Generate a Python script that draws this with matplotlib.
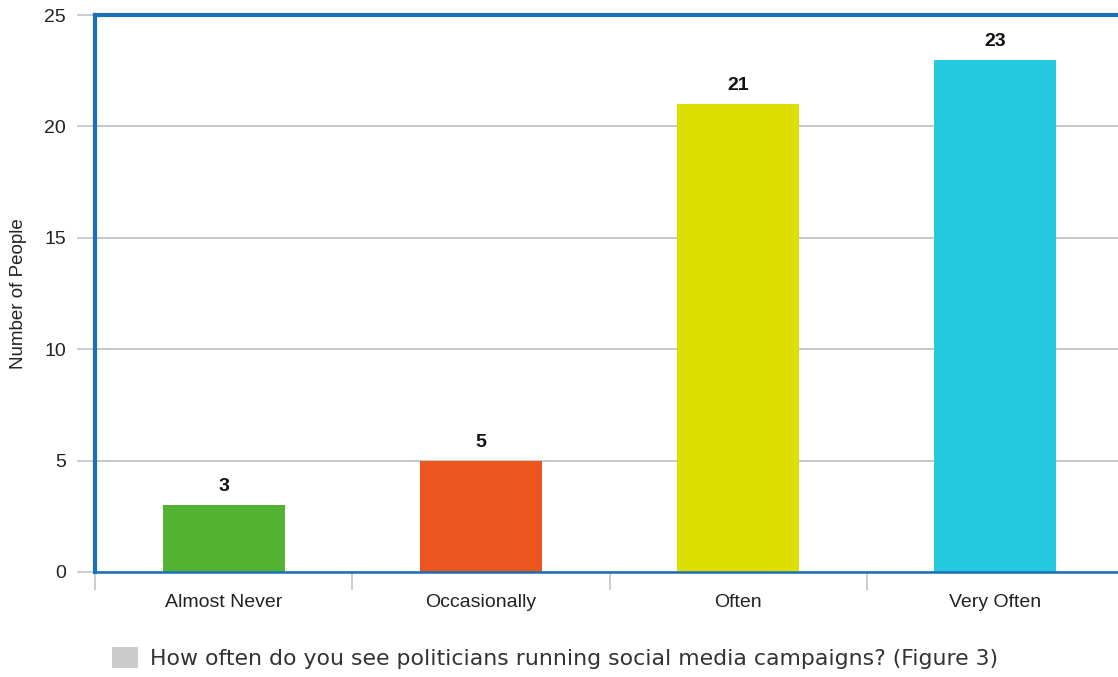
import matplotlib
matplotlib.use("Agg")
from matplotlib import pyplot as plt
from matplotlib.patches import Patch

categories = ["Almost Never", "Occasionally", "Often", "Very Often"]
counts = [3, 5, 21, 23]
bar_colors = ["#52b332", "#ea561e", "#dcdf00", "#26c9e2"]
yticks = [0, 5, 10, 15, 20, 25]
legend_label = "How often do you see politicians running social media campaigns? (Figure 3)"

plt.rcParams['font.family'] = ['Liberation Sans', 'DejaVu Sans']

fig = plt.figure(figsize=(11.18, 6.77), dpi=100)
ax = fig.add_axes([95 / 1118, 105 / 677, 1029 / 1118, 557 / 677])

x = list(range(len(categories)))
bars = ax.bar(x, counts, width=0.475, color=bar_colors, zorder=2)

# value labels above the bars
for xi, v in zip(x, counts):
    ax.text(xi, v + 0.45, str(v), ha='center', va='bottom',
            fontsize=14, fontweight='bold', color='#111111')

ax.set_xlim(-0.5, len(categories) - 0.5)
ax.set_ylim(0, 25)
ax.set_yticks(yticks)
ax.yaxis.grid(True, color='#c4c4c4', linewidth=1.3, zorder=0)
ax.set_axisbelow(True)

# category labels centred, tick marks at the boundaries
ax.set_xticks(x)
ax.set_xticklabels(categories, fontsize=14, color='#222222')
ax.tick_params(axis='x', length=0, pad=16)
ax.set_xticks([i - 0.5 for i in range(len(categories) + 1)], minor=True)
ax.tick_params(axis='x', which='minor', length=13, width=1.2, color='#c4c4c4')
ax.tick_params(axis='y', length=13, width=1.2, color='#c4c4c4',
               labelsize=14, labelcolor='#222222', pad=8)

for side in ['left', 'top', 'right']:
    ax.spines[side].set_color('#1a6fb5')
    ax.spines[side].set_linewidth(3)
ax.spines['bottom'].set_color('#1a6fb5')
ax.spines['bottom'].set_linewidth(1.8)

ax.set_ylabel("Number of People", fontsize=13.5, color='#222222', labelpad=12)

handle = Patch(facecolor='#cccccc', edgecolor='none')
fig.legend([handle], [legend_label], loc='lower left',
           bbox_to_anchor=(92 / 1118, -0.017), frameon=False,
           prop={'family': 'DejaVu Sans', 'size': 15.8},
           labelcolor='#333333', handlelength=1.2, handleheight=1.1,
           handletextpad=0.55)

fig.savefig("out.png", dpi=100)
